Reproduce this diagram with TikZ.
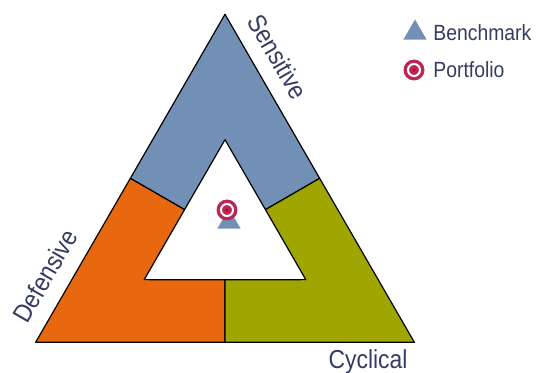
\documentclass[tikz,border=0pt]{standalone}
\usepackage{fontspec}
\setmainfont[FakeStretch=0.88]{Liberation Sans}
\definecolor{sensblue}{RGB}{114,144,182}
\definecolor{defor}{RGB}{232,104,16}
\definecolor{cycgreen}{RGB}{160,166,0}
\definecolor{portred}{RGB}{176,0,52}
\definecolor{txtgray}{RGB}{52,60,98}
\tikzset{
  zone/.style={draw=black,line width=0.6pt,line join=round},
  sidelabel/.style={text=txtgray,font=\fontsize{13}{15}\selectfont,inner sep=1pt},
  legendlabel/.style={text=txtgray,font=\fontsize{11}{13}\selectfont,inner sep=1pt},
  bench/.style={fill=sensblue,draw=none,regular polygon,regular polygon sides=3,inner sep=0pt,minimum size=13.5pt},
  port/.style={circle,fill=portred,draw=portred!85!white,line width=1.7pt,inner sep=0pt,minimum size=6pt,double=white,double distance=1pt}
}
\usetikzlibrary{shapes.geometric}
\begin{document}
\begin{tikzpicture}[x=0.5pt,y=0.5pt]
\useasboundingbox (0,0) rectangle (549,373);
\begin{scope}[shift={(225,140)}]
% corners and midpoints
\coordinate (Otop) at (90:218.7);
\coordinate (Oleft) at (210:218.7);
\coordinate (Oright) at (330:218.7);
\coordinate (Ml) at (150:109.3);
\coordinate (Mr) at (30:109.3);
\coordinate (Mb) at (270:109.3);
\coordinate (Itop) at (90:93.3);
\coordinate (Ileft) at (210:93.3);
\coordinate (Iright) at (330:93.3);
\coordinate (ml) at (150:46.7);
\coordinate (mr) at (30:46.7);
\coordinate (mb) at (270:46.7);
% the three zones
\filldraw[zone,fill=sensblue] (Otop) -- (Ml) -- (ml) -- (Itop) -- (mr) -- (Mr) -- cycle;
\filldraw[zone,fill=defor] (Ml) -- (Oleft) -- (Mb) -- (mb) -- (Ileft) -- (ml) -- cycle;
\filldraw[zone,fill=cycgreen] (Mr) -- (mr) -- (Iright) -- (mb) -- (Mb) -- (Oright) -- cycle;
% markers
\node[bench] (bm) at (4,11) {};
\node[port] (pf) at (2,23) {};
\end{scope}
% labels
\node[sidelabel,rotate=-60] (sens) at (278,316) {Sensitive};
\node[sidelabel,rotate=60] (def) at (45,97) {Defensive};
\node[sidelabel,anchor=base] (cyc) at (368,4) {Cyclical};
% legend
\node[bench] (lbm) at (415,340) {};
\node[legendlabel,anchor=west] (lbmt) at (431,340) {Benchmark};
\node[port] (lpf) at (414,303) {};
\node[legendlabel,anchor=west] (lpft) at (431,303) {Portfolio};
\end{tikzpicture}
\end{document}
